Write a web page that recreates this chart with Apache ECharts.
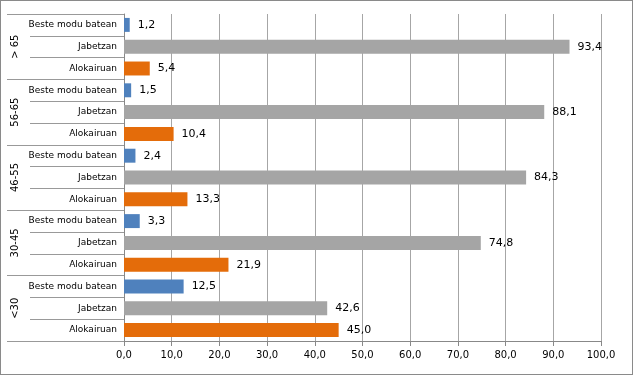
<!DOCTYPE html>
<html><head><meta charset="utf-8">
<script src="https://cdn.jsdelivr.net/npm/echarts@6/dist/echarts.min.js"></script>
<style>
html,body{margin:0;padding:0;background:#fff;}
#c{position:absolute;left:0;top:0;width:631px;height:373px;border:1px solid #8a8a8a;}
</style></head><body>
<div id="c"></div>
<script>
const groups = ['<30', '30-45', '46-55', '56-65', '> 65'];
const subCats = ['Alokairuan', 'Jabetzan', 'Beste modu batean'];
const alokairuan = [45.0, 21.9, 13.3, 10.4, 5.4];
const jabetzan = [42.6, 74.8, 84.3, 88.1, 93.4];
const beste = [12.5, 3.3, 2.4, 1.5, 1.2];
const xTicks = [0, 10, 20, 30, 40, 50, 60, 70, 80, 90, 100];
const colors = ['#E46C0A', '#A5A5A5', '#4F81BD'];

const cats = [];
const data = [];
groups.forEach((g, i) => {
  [alokairuan[i], jabetzan[i], beste[i]].forEach((v, j) => {
    cats.push(subCats[j]);
    data.push({ value: v, itemStyle: { color: colors[j] } });
  });
});
const fmt = v => v.toFixed(1).replace('.', ',');
const chart = echarts.init(document.getElementById('c'));
chart.setOption({
  animation: false,
  textStyle: { fontFamily: 'DejaVu Sans' },
  grid: { left: 123, right: 31, top: 13, bottom: 33 },
  xAxis: {
    type: 'value', min: xTicks[0], max: xTicks[xTicks.length - 1], interval: 10,
    axisLine: { show: true, lineStyle: { color: '#888' } },
    axisTick: { show: true, length: 5, lineStyle: { color: '#888' } },
    splitLine: { show: true, lineStyle: { color: '#a6a6a6' } },
    axisLabel: { color: '#000', fontSize: 10, margin: 9, formatter: fmt }
  },
  yAxis: [{
    type: 'category', data: cats, position: 'left',
    axisLine: { show: true, lineStyle: { color: '#888' } },
    axisTick: { show: true, length: 94, lineStyle: { color: '#999' } },
    axisLabel: { color: '#000', fontSize: 9, margin: 7 }
  }, {
    type: 'category', data: groups, position: 'left',
    axisLine: { show: false },
    axisTick: { show: true, length: 117, lineStyle: { color: '#999' } },
    axisLabel: { color: '#000', fontSize: 10, rotate: 90, margin: 104 }
  }],
  series: [{
    type: 'bar', yAxisIndex: 0, data: data, barCategoryGap: '36%',
    label: { show: true, position: 'right', distance: 8, color: '#000', fontSize: 11,
      formatter: p => fmt(p.value) }
  }]
});
</script></body></html>
